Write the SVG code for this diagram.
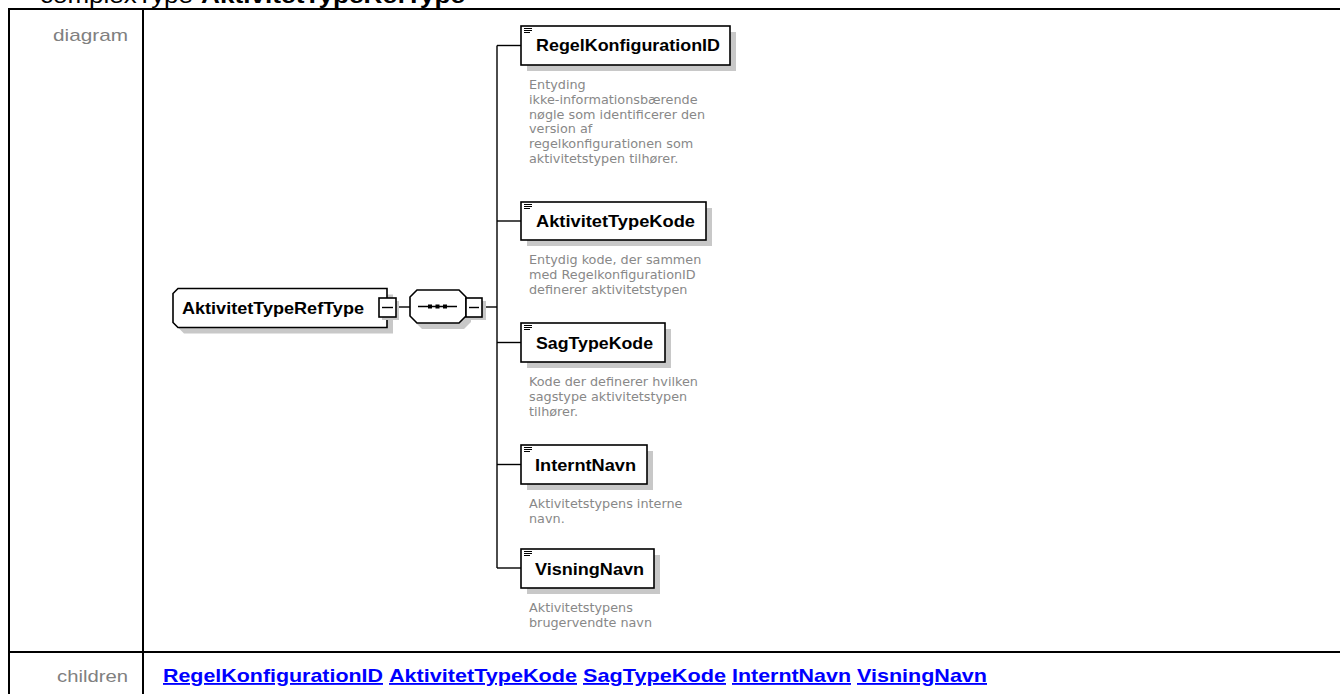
<svg xmlns="http://www.w3.org/2000/svg" width="1340" height="694" viewBox="0 0 1340 694">
<style>
.tbl{stroke:#000;stroke-width:2;fill:none}
.lbl{font-family:"Liberation Sans",Arial,sans-serif;font-size:17px;fill:#808080}
.lnk{font-family:"Liberation Sans",Arial,sans-serif;font-size:18.5px;font-weight:bold;fill:#0000ff;text-decoration:underline}
.box{fill:#fff;stroke:#000;stroke-width:1.6}
.shd{fill:#c8c8c8}
.name{font-family:"Liberation Sans",Arial,sans-serif;font-size:16.5px;font-weight:bold;fill:#000}
.desc{font-family:"DejaVu Sans",Verdana,sans-serif;font-size:12.8px;fill:#888}
.con{stroke:#000;stroke-width:1.4;fill:none}
.ico{stroke:#000;stroke-width:1}
</style>
<rect width="1340" height="694" fill="#fff"/>
<text x="40" y="3" font-family="'Liberation Sans',Arial,sans-serif" font-size="21.5" textLength="153" lengthAdjust="spacingAndGlyphs">complexType</text>
<text x="201" y="3" font-family="'Liberation Sans',Arial,sans-serif" font-size="21.5" font-weight="bold" textLength="264" lengthAdjust="spacingAndGlyphs">AktivitetTypeRefType</text>
<g id="table">
<line class="tbl" x1="8" y1="9" x2="1340" y2="9"/>
<line class="tbl" x1="9" y1="8" x2="9" y2="694"/>
<line class="tbl" x1="143" y1="8" x2="143" y2="694"/>
<line class="tbl" x1="8" y1="652" x2="1340" y2="652"/>
<text class="lbl" x="128" y="41" text-anchor="end" textLength="75" lengthAdjust="spacingAndGlyphs">diagram</text>
<text class="lbl" x="128" y="682" text-anchor="end" textLength="71" lengthAdjust="spacingAndGlyphs">children</text>
</g>
<g id="links">
<text class="lnk" x="163" y="682" textLength="220" lengthAdjust="spacingAndGlyphs">RegelKonfigurationID</text>
<text class="lnk" x="389" y="682" textLength="188" lengthAdjust="spacingAndGlyphs">AktivitetTypeKode</text>
<text class="lnk" x="583" y="682" textLength="143" lengthAdjust="spacingAndGlyphs">SagTypeKode</text>
<text class="lnk" x="732" y="682" textLength="119" lengthAdjust="spacingAndGlyphs">InterntNavn</text>
<text class="lnk" x="857" y="682" textLength="130" lengthAdjust="spacingAndGlyphs">VisningNavn</text>
</g>
<g id="connectors">
<line class="con" x1="396" y1="307" x2="410" y2="307"/>
<line class="con" x1="482" y1="307" x2="497" y2="307"/>
<line class="con" x1="497" y1="45.5" x2="497" y2="568"/>
<line class="con" x1="497" y1="45.5" x2="521" y2="45.5"/>
<line class="con" x1="497" y1="221" x2="521" y2="221"/>
<line class="con" x1="497" y1="342.5" x2="521" y2="342.5"/>
<line class="con" x1="497" y1="464.5" x2="521" y2="464.5"/>
<line class="con" x1="497" y1="568" x2="521" y2="568"/>
</g>
<g id="AktivitetTypeRefType">
<path class="shd" d="M184,294.5 H393 V333.5 H184 L179,328.5 V299.5 Z"/>
<path class="box" d="M178,288.5 H387 V327.5 H178 L173,322.5 V293.5 Z"/>
<text class="name" x="182" y="314" textLength="182" lengthAdjust="spacingAndGlyphs">AktivitetTypeRefType</text>
<rect class="shd" x="382" y="301" width="17" height="19"/>
<rect class="box" x="379" y="298" width="17" height="19"/>
<line class="con" x1="382" y1="307.5" x2="393" y2="307.5"/>
</g>
<g id="sequence">
<path class="shd" d="M422,296 H464 L471,303 V322 L464,329 H422 L415,322 V303 Z"/>
<path class="box" d="M417,290 H459 L466,297 V316 L459,323 H417 L410,316 V297 Z"/>
<line class="con" x1="418" y1="306.5" x2="457" y2="306.5"/>
<rect x="428" y="304.5" width="4" height="4" fill="#000"/>
<rect x="435.5" y="304.5" width="4" height="4" fill="#000"/>
<rect x="443" y="304.5" width="4" height="4" fill="#000"/>
<rect class="shd" x="469" y="301" width="17" height="19"/>
<rect class="box" x="466" y="298" width="16" height="19"/>
<line class="con" x1="469" y1="307.5" x2="479" y2="307.5"/>
</g>
<g id="RegelKonfigurationID">
<rect class="shd" x="527" y="32" width="209" height="39"/>
<rect class="box" x="521" y="26" width="209" height="39"/>
<path class="ico" d="M524,28.5 H532 M524,30.5 H532 M524,32.5 H530"/>
<text class="name" x="536" y="51" textLength="184" lengthAdjust="spacingAndGlyphs">RegelKonfigurationID</text>
<text class="desc" x="529" y="89">Entyding</text>
<text class="desc" x="529" y="103.8">ikke-informationsbærende</text>
<text class="desc" x="529" y="118.6">nøgle som identificerer den</text>
<text class="desc" x="529" y="133.4">version af</text>
<text class="desc" x="529" y="148.2">regelkonfigurationen som</text>
<text class="desc" x="529" y="163">aktivitetstypen tilhører.</text>
</g>
<g id="AktivitetTypeKode">
<rect class="shd" x="527" y="208" width="185" height="38"/>
<rect class="box" x="521" y="202" width="185" height="38"/>
<path class="ico" d="M524,204.5 H532 M524,206.5 H532 M524,208.5 H530"/>
<text class="name" x="536" y="227" textLength="159" lengthAdjust="spacingAndGlyphs">AktivitetTypeKode</text>
<text class="desc" x="529" y="264">Entydig kode, der sammen</text>
<text class="desc" x="529" y="278.8">med RegelkonfigurationID</text>
<text class="desc" x="529" y="293.6">definerer aktivitetstypen</text>
</g>
<g id="SagTypeKode">
<rect class="shd" x="527" y="329" width="144" height="39"/>
<rect class="box" x="521" y="323" width="144" height="39"/>
<path class="ico" d="M524,325.5 H532 M524,327.5 H532 M524,329.5 H530"/>
<text class="name" x="536" y="349" textLength="117" lengthAdjust="spacingAndGlyphs">SagTypeKode</text>
<text class="desc" x="529" y="386">Kode der definerer hvilken</text>
<text class="desc" x="529" y="400.8">sagstype aktivitetstypen</text>
<text class="desc" x="529" y="415.6">tilhører.</text>
</g>
<g id="InterntNavn">
<rect class="shd" x="527" y="451" width="126" height="39"/>
<rect class="box" x="521" y="445" width="126" height="39"/>
<path class="ico" d="M524,447.5 H532 M524,449.5 H532 M524,451.5 H530"/>
<text class="name" x="535" y="471" textLength="101" lengthAdjust="spacingAndGlyphs">InterntNavn</text>
<text class="desc" x="529" y="508">Aktivitetstypens interne</text>
<text class="desc" x="529" y="522.8">navn.</text>
</g>
<g id="VisningNavn">
<rect class="shd" x="527" y="555" width="133" height="39"/>
<rect class="box" x="521" y="549" width="133" height="39"/>
<path class="ico" d="M524,551.5 H532 M524,553.5 H532 M524,555.5 H530"/>
<text class="name" x="535" y="575" textLength="109" lengthAdjust="spacingAndGlyphs">VisningNavn</text>
<text class="desc" x="529" y="612">Aktivitetstypens</text>
<text class="desc" x="529" y="626.8">brugervendte navn</text>
</g>
</svg>
